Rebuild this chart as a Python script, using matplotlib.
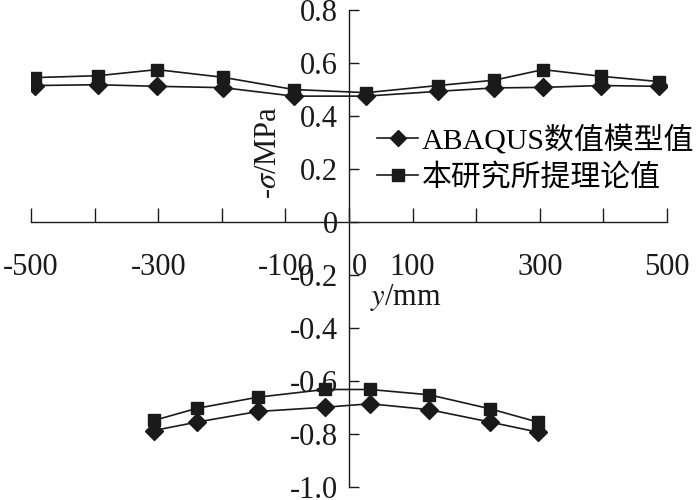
import matplotlib
matplotlib.use("Agg")
import matplotlib.pyplot as plt
import matplotlib.transforms as mtransforms

plt.rcParams['font.family'] = ['Liberation Serif', 'Noto Sans CJK SC']
plt.rcParams['mathtext.fontset'] = 'stix'

# ==============================
# Data
# ==============================
# upper branch (tension side)
x_top = [-493, -395, -302, -198, -87, 27, 140, 228, 305, 396, 487]
abaqus_top = [0.515, 0.518, 0.512, 0.507, 0.475, 0.475, 0.493, 0.506, 0.508, 0.515, 0.512]
theory_top = [0.545, 0.552, 0.575, 0.546, 0.500, 0.488, 0.515, 0.535, 0.575, 0.550, 0.530]

# lower branch (compression side)
x_bot = [-307, -239, -143, -38, 33, 126, 222, 297]
abaqus_bot = [-0.787, -0.755, -0.715, -0.699, -0.686, -0.708, -0.755, -0.793]
theory_bot = [-0.749, -0.703, -0.661, -0.632, -0.632, -0.652, -0.705, -0.755]

label_abaqus = "ABAQUS数值模型值"
label_theory = "本研究所提理论值"

x_ticks = [-500, -400, -300, -200, -100, 0, 100, 200, 300, 400, 500]
x_ticklabels = ["-500", "", "-300", "", "-100", "0", "100", "", "300", "", "500"]
y_ticks = [-1.0, -0.8, -0.6, -0.4, -0.2, 0, 0.2, 0.4, 0.6, 0.8]
y_ticklabels = ["-1.0", "-0.8", "-0.6", "-0.4", "-0.2", "0", "0.2", "0.4", "0.6", "0.8"]

# ==============================
# Plot
# ==============================
col = "#1a1a1a"
fig = plt.figure(figsize=(7, 5), dpi=100)
ax = fig.add_axes([31 / 700, 13 / 500, 636 / 700, 477 / 500])

ax.plot(x_top, abaqus_top, color=col, lw=1.2, marker="D", ms=9, label=label_abaqus)
ax.plot(x_top, theory_top, color=col, lw=1.2, marker="s", ms=9, label=label_theory)
ax.plot(x_bot, abaqus_bot, color=col, lw=1.2, marker="D", ms=9)
ax.plot(x_bot, theory_bot, color=col, lw=1.2, marker="s", ms=9)

ax.set_xlim(-500, 500)
ax.set_ylim(-1.0, 0.8)

# axes crossing at the origin
ax.spines["left"].set_position(("data", 0))
ax.spines["bottom"].set_position(("data", 0))
ax.spines["top"].set_visible(False)
ax.spines["right"].set_visible(False)
for s in ("left", "bottom"):
    ax.spines[s].set_linewidth(1.0)
    ax.spines[s].set_color(col)

ax.set_xticks(x_ticks)
ax.set_xticklabels(x_ticklabels)
ax.set_yticks(y_ticks)
ax.set_yticklabels(y_ticklabels)
ax.tick_params(axis="x", direction="in", length=10, width=1.0, pad=22,
               labelsize=22, colors=col)
ax.tick_params(axis="y", direction="in", length=7, width=1.0, pad=8,
               labelsize=22, colors=col)

# shift the x "0" label a little to the right of the y axis
for lab in ax.get_xticklabels():
    if lab.get_text() == "0":
        lab.set_transform(lab.get_transform()
                          + mtransforms.ScaledTranslation(10 / 100, 0, fig.dpi_scale_trans))

ax.text(0.373, 0.702, "-$\\sigma$/MPa", transform=ax.transAxes, rotation=90,
        ha="center", va="center", fontsize=22, color=col)
ax.text(0.59, 0.398, "$y$/mm", transform=ax.transAxes,
        ha="center", va="center", fontsize=22, color=col)

ax.legend(loc="upper left", bbox_to_anchor=(0.52, 0.792), frameon=False,
          fontsize=21.5, handlelength=1.4, handletextpad=0.1, labelspacing=0.32,
          borderpad=0, markerscale=0.9)

fig.savefig("out.png", dpi=100)
